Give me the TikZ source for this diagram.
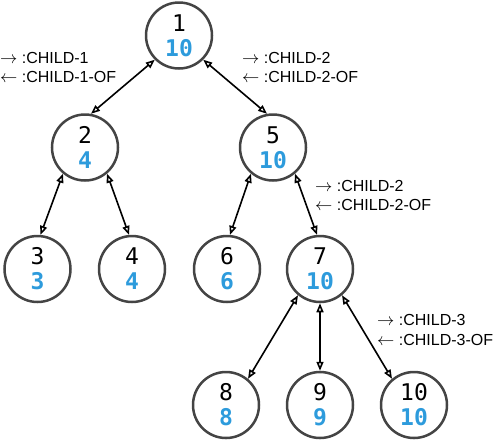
\documentclass[tikz,border=0pt]{standalone}
\usepackage{fontspec}
\setmainfont{Liberation Sans}
\newfontfamily\monofont{DejaVu Sans Mono}
\usetikzlibrary{arrows.meta}
\definecolor{numblue}{RGB}{45,155,220}
\definecolor{ringgray}{RGB}{68,68,68}

\tikzset{
  treenode/.style={circle,draw=ringgray,line width=2.5pt,minimum size=66pt,inner sep=0pt,
    align=center,font=\monofont\fontsize{23}{25}\selectfont},
  link/.style={{Triangle[open,length=9pt,width=7pt]}-{Triangle[open,length=9pt,width=7pt]},
    line width=1.6pt},
  rel/.style={anchor=west,align=left,inner sep=0pt,font=\fontsize{16}{19.5}\selectfont}
}
\newcommand{\val}[1]{\textcolor{numblue}{\bfseries #1}}
\newcommand{\fwd}{$\rightarrow$}
\newcommand{\bwd}{$\leftarrow$}

\begin{document}
\begin{tikzpicture}[x=1pt,y=-1pt]
\useasboundingbox (0,0) rectangle (494,440);

% nodes, rank by rank
\node[treenode] (n1) at (179,35.5) {1\\\val{10}};

\node[treenode] (n2) at (85,147.5) {2\\\val{4}};
\node[treenode] (n5) at (273,147.5) {5\\\val{10}};

\node[treenode] (n3) at (37.5,269) {3\\\val{3}};
\node[treenode] (n4) at (132,269) {4\\\val{4}};
\node[treenode] (n6) at (227,269) {6\\\val{6}};
\node[treenode] (n7) at (320,269) {7\\\val{10}};

\node[treenode] (n8) at (226,405) {8\\\val{8}};
\node[treenode] (n9) at (320,405) {9\\\val{9}};
\node[treenode] (n10) at (414,405) {10\\\val{10}};

% links
\draw[link] (n1.225) -- (n2.80);
\draw[link] (n1.315) -- (n5.100);
\draw[link] (n2.230) -- (n3.85);
\draw[link] (n2.310) -- (n4.95);
\draw[link] (n5.230) -- (n6.85);
\draw[link] (n5.310) -- (n7.95);
\draw[link] (n7.230) -- (n8.50);
\draw[link] (n7.270) -- (n9.90);
\draw[link] (n7.310) -- (n10.130);

% relation labels
\node[rel] (r12) at (0,67.5) {\fwd\ :CHILD-1\\\bwd\ :CHILD-1-OF};
\node[rel] (r15) at (242,67.5) {\fwd\ :CHILD-2\\\bwd\ :CHILD-2-OF};
\node[rel] (r57) at (315,195.5) {\fwd\ :CHILD-2\\\bwd\ :CHILD-2-OF};
\node[rel] (r710) at (377,330) {\fwd\ :CHILD-3\\\bwd\ :CHILD-3-OF};

\end{tikzpicture}
\end{document}
